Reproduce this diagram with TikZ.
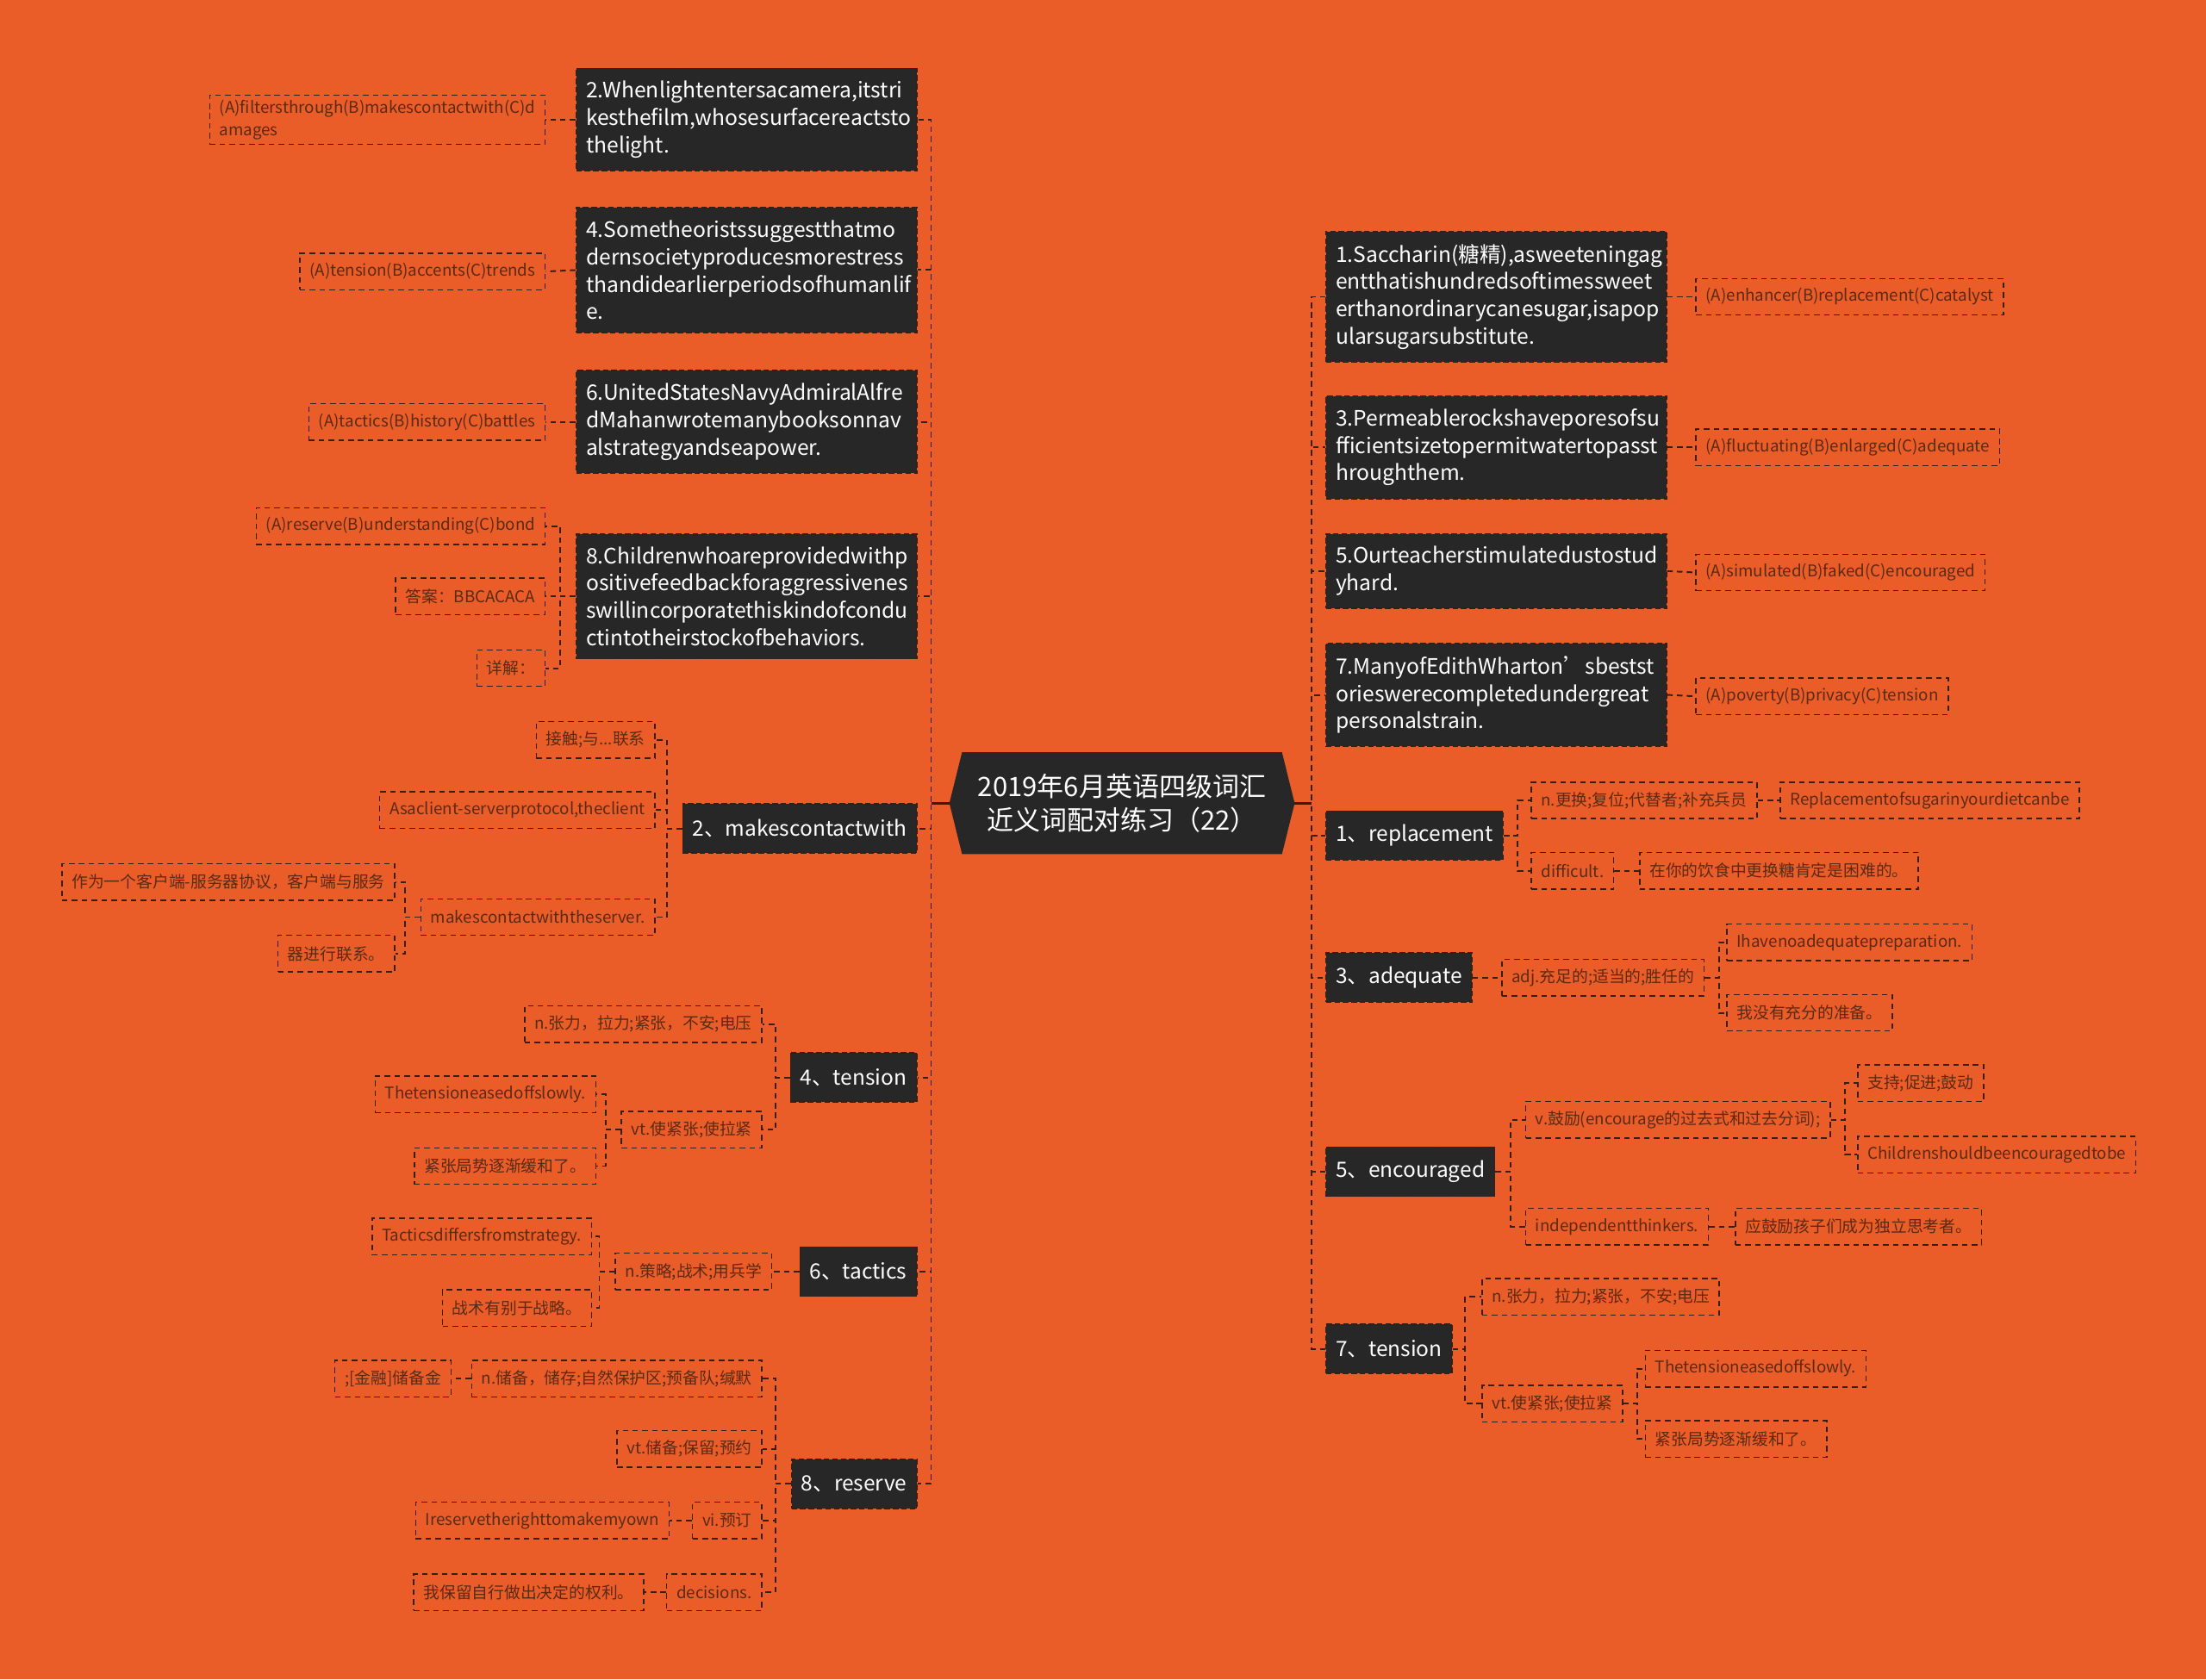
\documentclass[tikz,border=0pt]{standalone}
\usepackage{fontspec}
\setmainfont{Noto Sans CJK SC}
\usetikzlibrary{backgrounds}
\definecolor{bgorange}{HTML}{EA5D28}
\definecolor{boxdark}{HTML}{272727}
\definecolor{linedark}{HTML}{35200F}
\definecolor{leaftext}{HTML}{5A2A14}
\tikzset{
  link/.style={draw=linedark, line width=1.2pt, dash pattern=on 4pt off 3pt},
  hublink/.style={draw=linedark, line width=1.6pt},
  hub/.style={text=white, font=\fontsize{19}{24}\selectfont, align=center, minimum width=245pt, minimum height=72pt, inner sep=0pt},
  qbox/.style={fill=boxdark, draw=linedark, line width=0.9pt, dash pattern=on 4pt off 2pt, text=white, font=\fontsize{15.1}{19.5}\selectfont, align=left, text width=228pt, inner xsep=7pt, inner ysep=9pt},
  wbox/.style={fill=boxdark, draw=linedark, line width=0.9pt, dash pattern=on 4pt off 2pt, text=white, font=\fontsize{15}{19}\selectfont, inner xsep=7pt, minimum height=35pt},
  leaf/.style={draw=linedark, line width=0.9pt, dash pattern=on 4pt off 3pt, text=leaftext, font=\fontsize{11.5}{16}\selectfont, align=left, inner xsep=7pt, minimum height=26pt},
}
\begin{document}
\begin{tikzpicture}[x=1pt, y=-1pt]
  \useasboundingbox (0,0) rectangle (1568,1194);
  % centre
  \node[hub] (hub) at (797.5,571) {2019年6月英语四级词汇\\近义词配对练习（22）};
  \begin{scope}[on background layer]
    \fill[bgorange] (0,0) rectangle (1568,1194);
    \fill[boxdark] (hub.west) -- ([xshift=9pt]hub.north west) -- ([xshift=-9pt]hub.north east) -- (hub.east) -- ([xshift=-9pt]hub.south east) -- ([xshift=9pt]hub.south west) -- cycle;
  \end{scope}

  % left: questions and words
  \node[qbox, anchor=east] (q2) at (652,85) {2.Whenlightentersacamera,itstri\\kesthefilm,whosesurfacereactsto\\thelight.};
  \node[qbox, anchor=east] (q4) at (652,192) {4.Sometheoristssuggestthatmo\\dernsocietyproducesmorestress\\thandidearlierperiodsofhumanlif\\e.};
  \node[qbox, anchor=east] (q6) at (652,300) {6.UnitedStatesNavyAdmiralAlfre\\dMahanwrotemanybooksonnav\\alstrategyandseapower.};
  \node[qbox, anchor=east] (q8) at (652,424) {8.Childrenwhoareprovidedwithp\\ositivefeedbackforaggressivenes\\swillincorporatethiskindofcondu\\ctintotheirstockofbehaviors.};
  \node[wbox, anchor=east] (w2) at (652,589) {2、makescontactwith};
  \node[wbox, anchor=east] (w4) at (652,766) {4、tension};
  \node[wbox, anchor=east] (w6) at (652,904) {6、tactics};
  \node[wbox, anchor=east] (w8) at (652,1055) {8、reserve};

  % right: questions and words
  \node[qbox, anchor=west] (q1) at (942,211) {1.Saccharin(糖精),asweeteningag\\entthatishundredsoftimessweet\\erthanordinarycanesugar,isapop\\ularsugarsubstitute.};
  \node[qbox, anchor=west] (q3) at (942,318) {3.Permeablerockshaveporesofsu\\fficientsizetopermitwatertopasst\\hroughthem.};
  \node[qbox, anchor=west] (q5) at (942,406) {5.Ourteacherstimulatedustostud\\yhard.};
  \node[qbox, anchor=west] (q7) at (942,494) {7.ManyofEdithWharton’sbestst\\orieswerecompletedundergreat\\personalstrain.};
  \node[wbox, anchor=west] (w1) at (942,594) {1、replacement};
  \node[wbox, anchor=west] (w3) at (942,695) {3、adequate};
  \node[wbox, anchor=west] (w5) at (942,833) {5、encouraged};
  \node[wbox, anchor=west] (w7) at (942,959) {7、tension};

  % left leaves
  \node[leaf, anchor=east] (a2) at (388,85) {(A)filtersthrough(B)makescontactwith(C)d\\amages};
  \node[leaf, anchor=east] (a4) at (388,193) {(A)tension(B)accents(C)trends};
  \node[leaf, anchor=east] (a6) at (388,300) {(A)tactics(B)history(C)battles};
  \node[leaf, anchor=east] (a8a) at (388,374) {(A)reserve(B)understanding(C)bond};
  \node[leaf, anchor=east] (a8b) at (388,424) {答案：BBCACACA};
  \node[leaf, anchor=east] (a8c) at (388,475) {详解：};

  \node[leaf, anchor=east] (m1) at (466,526) {接触;与...联系};
  \node[leaf, anchor=east] (m2) at (466,576) {Asaclient-serverprotocol,theclient};
  \node[leaf, anchor=east] (m3) at (466,652) {makescontactwiththeserver.};
  \node[leaf, anchor=east] (m3a) at (281,627) {作为一个客户端-服务器协议，客户端与服务};
  \node[leaf, anchor=east] (m3b) at (281,678) {器进行联系。};

  \node[leaf, anchor=east] (t1) at (542,728) {n.张力，拉力;紧张，不安;电压};
  \node[leaf, anchor=east] (t2) at (542,803) {vt.使紧张;使拉紧};
  \node[leaf, anchor=east] (t2a) at (424,778) {Thetensioneasedoffslowly.};
  \node[leaf, anchor=east] (t2b) at (424,829) {紧张局势逐渐缓和了。};

  \node[leaf, anchor=east] (c1) at (549,904) {n.策略;战术;用兵学};
  \node[leaf, anchor=east] (c1a) at (421,879) {Tacticsdiffersfromstrategy.};
  \node[leaf, anchor=east] (c1b) at (421,930) {战术有别于战略。};

  \node[leaf, anchor=east] (r1) at (542,980) {n.储备，储存;自然保护区;预备队;缄默};
  \node[leaf, anchor=east] (r1a) at (321,980) {;[金融]储备金};
  \node[leaf, anchor=east] (r2) at (542,1030) {vt.储备;保留;预约};
  \node[leaf, anchor=east] (r3) at (542,1081) {vi.预订};
  \node[leaf, anchor=east] (r3a) at (476,1081) {Ireservetherighttomakemyown};
  \node[leaf, anchor=east] (r4) at (542,1132) {decisions.};
  \node[leaf, anchor=east] (r4a) at (458,1132) {我保留自行做出决定的权利。};

  % right leaves
  \node[leaf, anchor=west] (b1) at (1205,211) {(A)enhancer(B)replacement(C)catalyst};
  \node[leaf, anchor=west] (b3) at (1205,318) {(A)fluctuating(B)enlarged(C)adequate};
  \node[leaf, anchor=west] (b5) at (1205,407) {(A)simulated(B)faked(C)encouraged};
  \node[leaf, anchor=west] (b7) at (1205,495) {(A)poverty(B)privacy(C)tension};

  \node[leaf, anchor=west] (p1) at (1088,569) {n.更换;复位;代替者;补充兵员};
  \node[leaf, anchor=west] (p1a) at (1265,569) {Replacementofsugarinyourdietcanbe};
  \node[leaf, anchor=west] (p2) at (1088,619) {difficult.};
  \node[leaf, anchor=west] (p2a) at (1165,619) {在你的饮食中更换糖肯定是困难的。};

  \node[leaf, anchor=west] (d1) at (1067,695) {adj.充足的;适当的;胜任的};
  \node[leaf, anchor=west] (d1a) at (1227,670) {Ihavenoadequatepreparation.};
  \node[leaf, anchor=west] (d1b) at (1227,720) {我没有充分的准备。};

  \node[leaf, anchor=west] (e1) at (1084,796) {v.鼓励(encourage的过去式和过去分词);};
  \node[leaf, anchor=west] (e1a) at (1320,770) {支持;促进;鼓动};
  \node[leaf, anchor=west] (e1b) at (1320,821) {Childrenshouldbeencouragedtobe};
  \node[leaf, anchor=west] (e2) at (1084,872) {independentthinkers.};
  \node[leaf, anchor=west] (e2a) at (1233,872) {应鼓励孩子们成为独立思考者。};

  \node[leaf, anchor=west] (n1) at (1053,922) {n.张力，拉力;紧张，不安;电压};
  \node[leaf, anchor=west] (n2) at (1053,998) {vt.使紧张;使拉紧};
  \node[leaf, anchor=west] (n2a) at (1169,973) {Thetensioneasedoffslowly.};
  \node[leaf, anchor=west] (n2b) at (1169,1023) {紧张局势逐渐缓和了。};

  % connectors
  \foreach \n in {q2,q4,q6,q8,w2,w4,w6,w8}
    \draw[link] (hub.west) -- ++(-13,0) |- (\n.east);
  \foreach \n in {q1,q3,q5,q7,w1,w3,w5,w7}
    \draw[link] (hub.east) -- ++(12,0) |- (\n.west);
  \draw[hublink] (hub.west) -- ++(-13,0);
  \draw[hublink] (hub.east) -- ++(12,0);

  \draw[link] (q2.west) -- (a2.east);
  \draw[link] (q4.west) -- (a4.east);
  \draw[link] (q6.west) -- (a6.east);
  \foreach \n in {a8a,a8b,a8c}
    \draw[link] (q8.west) -- ++(-11,0) |- (\n.east);
  \draw[link] (q1.east) -- (b1.west);
  \draw[link] (q3.east) -- (b3.west);
  \draw[link] (q5.east) -- (b5.west);
  \draw[link] (q7.east) -- (b7.west);

  \foreach \n in {m1,m2,m3}
    \draw[link] (w2.west) -- ++(-11,0) |- (\n.east);
  \foreach \n in {m3a,m3b}
    \draw[link] (m3.west) -- ++(-11,0) |- (\n.east);
  \foreach \n in {t1,t2}
    \draw[link] (w4.west) -- ++(-10,0) |- (\n.east);
  \foreach \n in {t2a,t2b}
    \draw[link] (t2.west) -- ++(-11,0) |- (\n.east);
  \draw[link] (w6.west) -- (c1.east);
  \foreach \n in {c1a,c1b}
    \draw[link] (c1.west) -- ++(-11,0) |- (\n.east);
  \foreach \n in {r1,r2,r3,r4}
    \draw[link] (w8.west) -- ++(-11,0) |- (\n.east);
  \draw[link] (r1.west) -- (r1a.east);
  \draw[link] (r3.west) -- (r3a.east);
  \draw[link] (r4.west) -- (r4a.east);

  \foreach \n in {p1,p2}
    \draw[link] (w1.east) -- ++(10,0) |- (\n.west);
  \draw[link] (p1.east) -- (p1a.west);
  \draw[link] (p2.east) -- (p2a.west);
  \draw[link] (w3.east) -- (d1.west);
  \foreach \n in {d1a,d1b}
    \draw[link] (d1.east) -- ++(10,0) |- (\n.west);
  \foreach \n in {e1,e2}
    \draw[link] (w5.east) -- ++(11,0) |- (\n.west);
  \foreach \n in {e1a,e1b}
    \draw[link] (e1.east) -- ++(10,0) |- (\n.west);
  \draw[link] (e2.east) -- (e2a.west);
  \foreach \n in {n1,n2}
    \draw[link] (w7.east) -- ++(9,0) |- (\n.west);
  \foreach \n in {n2a,n2b}
    \draw[link] (n2.east) -- ++(10,0) |- (\n.west);
\end{tikzpicture}
\end{document}
